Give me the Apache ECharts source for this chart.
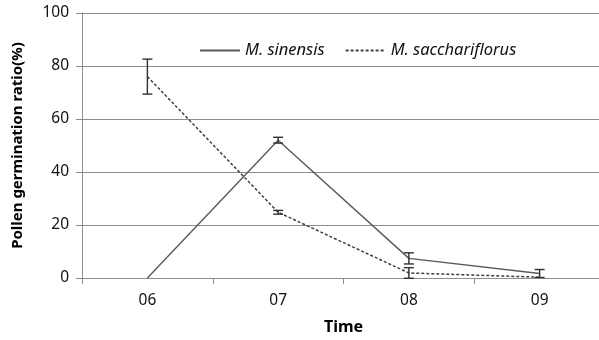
<!DOCTYPE html>
<html>
<head>
<meta charset="utf-8">
<script src="https://cdn.jsdelivr.net/npm/echarts@6/dist/echarts.min.js"></script>
<style>html,body{margin:0;padding:0;background:#fff;}#c{width:599px;height:340px;}</style>
</head>
<body>
<div id="c"></div>
<script>
var categories = ['06', '07', '08', '09'];
var sinensis = [0, 52, 7.4, 1.7];
var sinensisErr = [null, 1.1, 2.1, 1.5];
var sacch = [76, 24.8, 1.9, 0.3];
var sacchErr = [6.6, 0.7, 2.0, null];
var yTicks = [0, 20, 40, 60, 80, 100];

function errData(vals, errs) {
  var out = [];
  for (var i = 0; i < vals.length; i++) {
    if (errs[i] != null) out.push([i, vals[i] - errs[i], vals[i] + errs[i]]);
  }
  return out;
}
function renderErr(params, api) {
  var x = api.value(0);
  var lo = api.coord([x, api.value(1)]);
  var hi = api.coord([x, api.value(2)]);
  var w = 5;
  var st = {stroke: '#303030', lineWidth: 1.4, fill: null};
  return {type: 'group', children: [
    {type: 'line', shape: {x1: lo[0], y1: lo[1], x2: hi[0], y2: hi[1]}, style: st},
    {type: 'line', shape: {x1: lo[0] - w, y1: lo[1], x2: lo[0] + w, y2: lo[1]}, style: st},
    {type: 'line', shape: {x1: hi[0] - w, y1: hi[1], x2: hi[0] + w, y2: hi[1]}, style: st}
  ]};
}

var chart = echarts.init(document.getElementById('c'), null, {renderer: 'canvas'});
var font = 'Noto Sans';
chart.setOption({
  animation: false,
  backgroundColor: '#fff',
  grid: {left: 82, top: 13, bottom: 62, width: 523, containLabel: false, outerBoundsMode: 'none'},
  legend: {
    left: 194, top: 37, itemWidth: 40, itemHeight: 10, itemGap: 20,
    itemStyle: {opacity: 0},
    textStyle: {fontFamily: font, fontSize: 16.5, fontStyle: 'italic', color: '#111'},
    data: ['M. sinensis', 'M. sacchariflorus']
  },
  xAxis: {
    type: 'category', data: categories, boundaryGap: true,
    name: 'Time', nameLocation: 'middle', nameGap: 41,
    nameTextStyle: {fontFamily: font, fontSize: 16, fontWeight: 'bold', color: '#000'},
    axisLine: {lineStyle: {color: '#8c8c8c', width: 1}},
    axisTick: {show: true, length: 6, alignWithLabel: false, lineStyle: {color: '#8c8c8c'}},
    axisLabel: {fontFamily: font, fontSize: 15.5, color: '#111', margin: 15}
  },
  yAxis: {
    type: 'value', min: 0, max: 100, interval: 20,
    name: 'Pollen germination ratio(%)', nameLocation: 'middle', nameGap: 57,
    nameTextStyle: {fontFamily: font, fontSize: 15, fontWeight: 'bold', color: '#000'},
    axisLine: {show: true, lineStyle: {color: '#8c8c8c', width: 1}},
    axisTick: {show: true, length: 6, lineStyle: {color: '#8c8c8c'}},
    axisLabel: {fontFamily: font, fontSize: 15.5, color: '#111', margin: 13,
      formatter: function (v) { return yTicks.indexOf(v) >= 0 ? String(v) : ''; }},
    splitLine: {show: true, lineStyle: {color: '#8c8c8c', width: 1}}
  },
  series: [
    {name: 'M. sinensis', type: 'line', data: sinensis, symbol: 'none',
      lineStyle: {color: '#5a5a5a', width: 1.4, type: 'solid'}, itemStyle: {color: '#5a5a5a'}},
    {name: 'M. sacchariflorus', type: 'line', data: sacch, symbol: 'none',
      lineStyle: {color: '#404040', width: 1.5, type: [3, 2]}, itemStyle: {color: '#404040'}},
    {type: 'custom', renderItem: renderErr, data: errData(sinensis, sinensisErr), z: 5},
    {type: 'custom', renderItem: renderErr, data: errData(sacch, sacchErr), z: 5}
  ]
});
</script>
</body>
</html>
